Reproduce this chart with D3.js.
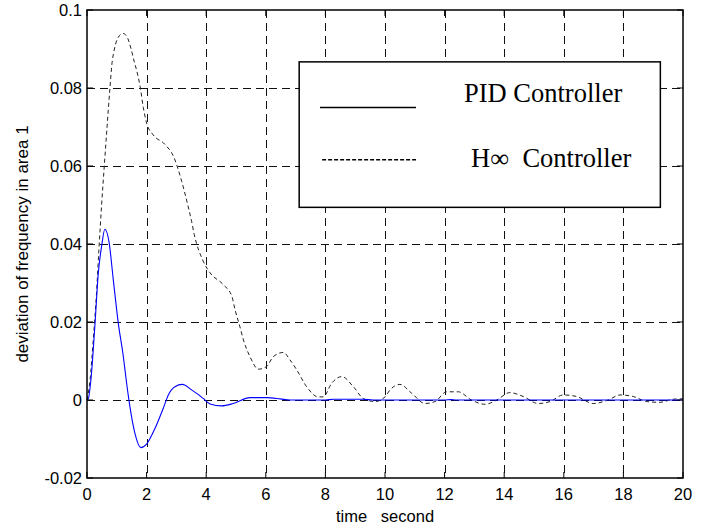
<!DOCTYPE html>
<meta charset="utf-8">
<style>
    body { margin: 0; background: #fff; }
    .tick-label {
        font-family: "Liberation Sans", Arial, sans-serif;
        font-size: 16.5px;
        fill: #000;
    }
    .axis-title {
        font-family: "Liberation Sans", Arial, sans-serif;
        font-size: 16.5px;
        fill: #000;
    }
    .grid line {
        stroke: #111;
        stroke-width: 1;
        stroke-dasharray: 8,5;
        shape-rendering: crispEdges;
    }
    .legend-text {
        font-family: "Liberation Serif", "Times New Roman", serif;
        font-size: 26.5px;
        fill: #000;
    }
</style>
<body>
<svg></svg>

<script src="https://d3js.org/d3.v7.min.js"></script>
<script type='text/javascript'>

    // PID controller (blue solid)
    var pidT = [0, 0.04, 0.13, 0.27, 0.38, 0.49, 0.6, 0.74, 0.88, 1.05, 1.22, 1.33, 1.44, 1.61, 1.81, 2.0,
                2.28, 2.56, 2.73, 2.95, 3.2, 3.51, 3.68, 3.9, 4.13, 4.52, 4.91, 5.47, 6.03, 6.48, 6.81,
                8.0, 8.27, 9.26, 9.6, 12.0, 12.2, 12.4, 20];
    var pidV = [0, 0.0002, 0.0051, 0.0197, 0.0326, 0.0394, 0.0438, 0.0405, 0.031, 0.0197, 0.0111, 0.0043,
                -0.0017, -0.0086, -0.0122, -0.0113, -0.0073, -0.0021, 0.0013, 0.0034, 0.004, 0.0026,
                0.0017, 0.0004, -0.001, -0.0015, -0.0009, 0.0006, 0.0006, 0.0003, 0,
                0, 0.0002, 0.0002, 0, 0, 0.0001, 0, 0];

    // H-infinity controller (black dashed)
    var hinfT = [0, 0.1, 0.21, 0.32, 0.4, 0.49, 0.58, 0.77, 0.83, 0.92, 1.05, 1.2, 1.33, 1.48, 1.59, 1.67,
                 1.78, 1.89, 2.0, 2.22, 2.62, 2.9, 3.18, 3.35, 3.51, 3.6, 3.9, 4.13, 4.57, 4.86, 4.97, 5.13,
                 5.25, 5.47, 5.75, 6.03, 6.25, 6.59, 6.81, 7.04, 7.37, 7.76, 7.93, 8.21, 8.55, 8.94, 9.27,
                 9.66, 10.0, 10.17, 10.5, 10.9, 11.34, 11.68, 12.07, 12.46, 12.9, 13.36, 13.75, 14.19,
                 14.64, 15.14, 15.54, 15.98, 16.43, 16.99, 17.49, 17.89, 18.33, 18.78, 19.23, 19.67, 20];
    var hinfV = [0, 0.005, 0.0154, 0.0275, 0.0386, 0.05, 0.06, 0.08, 0.0857, 0.09, 0.093, 0.094, 0.0933,
                 0.09, 0.0866, 0.0844, 0.0805, 0.075, 0.071, 0.068, 0.0655, 0.0625, 0.056, 0.051, 0.0458,
                 0.0424, 0.0356, 0.0326, 0.0296, 0.0266, 0.0231, 0.0188, 0.0154, 0.0111, 0.0079, 0.0086,
                 0.0111, 0.0122, 0.0103, 0.0077, 0.0034, 0.0008, 0.0008, 0.0043, 0.006, 0.0034, 0.0004,
                 -0.0004, 0.0008, 0.0026, 0.004, 0.0017, -0.0009, -0.0004, 0.0021, 0.0021, 0, -0.0011, 0,
                 0.0019, 0.0009, -0.0009, -0.0004, 0.0013, 0.0009, -0.0009, 0, 0.0013, 0.0009, -0.0004,
                 -0.0006, 0.0002, 0.0003];

    var xTicks = [0, 2, 4, 6, 8, 10, 12, 14, 16, 18, 20];
    var yTicks = [-0.02, 0, 0.02, 0.04, 0.06, 0.08, 0.1];
    var yTickLabels = ['-0.02', '0', '0.02', '0.04', '0.06', '0.08', '0.1'];
    var legendLabels = ['PID Controller', 'H\u221E  Controller'];

    var W = 710, H = 531;
    var plot = {left: 87, right: 683, top: 10, bottom: 478};

    var svg = d3.select('svg')
        .attr('width', W)
        .attr('height', H);

    var x = d3.scaleLinear().domain([0, 20]).range([plot.left, plot.right]);
    var y = d3.scaleLinear().domain([-0.02, 0.1]).range([plot.bottom, plot.top]);

    // grid
    var grid = svg.append('g').attr('class', 'grid');
    grid.selectAll('line.v')
        .data(xTicks.slice(1, -1))
        .enter().append('line')
        .attr('class', 'v')
        .attr('x1', function(d) { return Math.round(x(d)) + 0.5; })
        .attr('x2', function(d) { return Math.round(x(d)) + 0.5; })
        .attr('y1', plot.top)
        .attr('y2', plot.bottom);
    grid.selectAll('line.h')
        .data(yTicks.slice(1, -1))
        .enter().append('line')
        .attr('class', 'h')
        .attr('x1', plot.left)
        .attr('x2', plot.right)
        .attr('y1', function(d) { return Math.round(y(d)) + 0.5; })
        .attr('y2', function(d) { return Math.round(y(d)) + 0.5; });

    // curves
    var line = d3.line()
        .x(function(d) { return x(d[0]); })
        .y(function(d) { return y(d[1]); })
        .curve(d3.curveMonotoneX);

    var hinfData = hinfT.map(function(t, i) { return [t, hinfV[i]]; });
    var pidData = pidT.map(function(t, i) { return [t, pidV[i]]; });

    svg.append('path')
        .datum(hinfData)
        .attr('d', line)
        .attr('fill', 'none')
        .attr('stroke', '#222')
        .attr('stroke-width', 1)
        .attr('stroke-dasharray', '4,3');

    svg.append('path')
        .datum(pidData)
        .attr('d', line)
        .attr('fill', 'none')
        .attr('stroke', '#0000ff')
        .attr('stroke-width', 1.1);

    // axes box with inward ticks on all sides
    var tickLen = 6;
    var axes = svg.append('g');
    axes.append('rect')
        .attr('x', plot.left)
        .attr('y', plot.top)
        .attr('width', plot.right - plot.left)
        .attr('height', plot.bottom - plot.top)
        .attr('fill', 'none')
        .attr('stroke', '#000')
        .attr('stroke-width', 1.5);

    xTicks.forEach(function(t) {
        axes.append('line')
            .attr('x1', x(t)).attr('x2', x(t))
            .attr('y1', plot.bottom).attr('y2', plot.bottom - tickLen)
            .attr('stroke', '#000');
        axes.append('line')
            .attr('x1', x(t)).attr('x2', x(t))
            .attr('y1', plot.top).attr('y2', plot.top + tickLen)
            .attr('stroke', '#000');
    });
    yTicks.forEach(function(v) {
        axes.append('line')
            .attr('x1', plot.left).attr('x2', plot.left + tickLen)
            .attr('y1', y(v)).attr('y2', y(v))
            .attr('stroke', '#000');
        axes.append('line')
            .attr('x1', plot.right).attr('x2', plot.right - tickLen)
            .attr('y1', y(v)).attr('y2', y(v))
            .attr('stroke', '#000');
    });

    axes.selectAll('text.xt')
        .data(xTicks)
        .enter().append('text')
        .attr('class', 'tick-label')
        .attr('x', function(d) { return x(d); })
        .attr('y', 500)
        .attr('text-anchor', 'middle')
        .text(function(d) { return d; });

    axes.selectAll('text.yt')
        .data(yTicks)
        .enter().append('text')
        .attr('class', 'tick-label')
        .attr('x', plot.left - 5)
        .attr('y', function(d) { return y(d); })
        .attr('dy', '0.35em')
        .attr('text-anchor', 'end')
        .text(function(d, i) { return yTickLabels[i]; });

    svg.append('text')
        .attr('class', 'axis-title')
        .attr('x', (plot.left + plot.right) / 2)
        .attr('y', 522)
        .attr('text-anchor', 'middle')
        .attr('xml:space', 'preserve')
        .style('white-space', 'pre')
        .text('time   second');

    svg.append('text')
        .attr('class', 'axis-title')
        .style('font-size', '17px')
        .attr('transform', 'translate(28,' + ((plot.top + plot.bottom) / 2) + ')rotate(-90)')
        .attr('text-anchor', 'middle')
        .text('deviation of frequency in area 1');

    // legend, placed in data units so it sits right against the grid
    var legend = svg.append('g');
    legend.append('rect')
        .attr('x', x(7.12))
        .attr('y', y(0.0867))
        .attr('width', x(19.24) - x(7.12))
        .attr('height', y(0.0494) - y(0.0867))
        .attr('fill', '#fff')
        .attr('stroke', '#000')
        .attr('stroke-width', 1.5);

    legend.append('line')
        .attr('x1', x(7.82)).attr('x2', x(11.04))
        .attr('y1', y(0.075)).attr('y2', y(0.075))
        .attr('stroke', '#000')
        .attr('stroke-width', 1.5);
    legend.append('line')
        .attr('x1', x(7.89)).attr('x2', x(11.04))
        .attr('y1', y(0.0616)).attr('y2', y(0.0616))
        .attr('stroke', '#000')
        .attr('stroke-width', 1.5)
        .attr('stroke-dasharray', '4,2');

    legend.append('text')
        .attr('class', 'legend-text')
        .attr('x', x(12.65))
        .attr('y', y(0.0765))
        .text(legendLabels[0]);
    legend.append('text')
        .attr('class', 'legend-text')
        .attr('x', x(12.89))
        .attr('y', y(0.0598))
        .attr('xml:space', 'preserve')
        .style('white-space', 'pre')
        .text(legendLabels[1]);

</script>
